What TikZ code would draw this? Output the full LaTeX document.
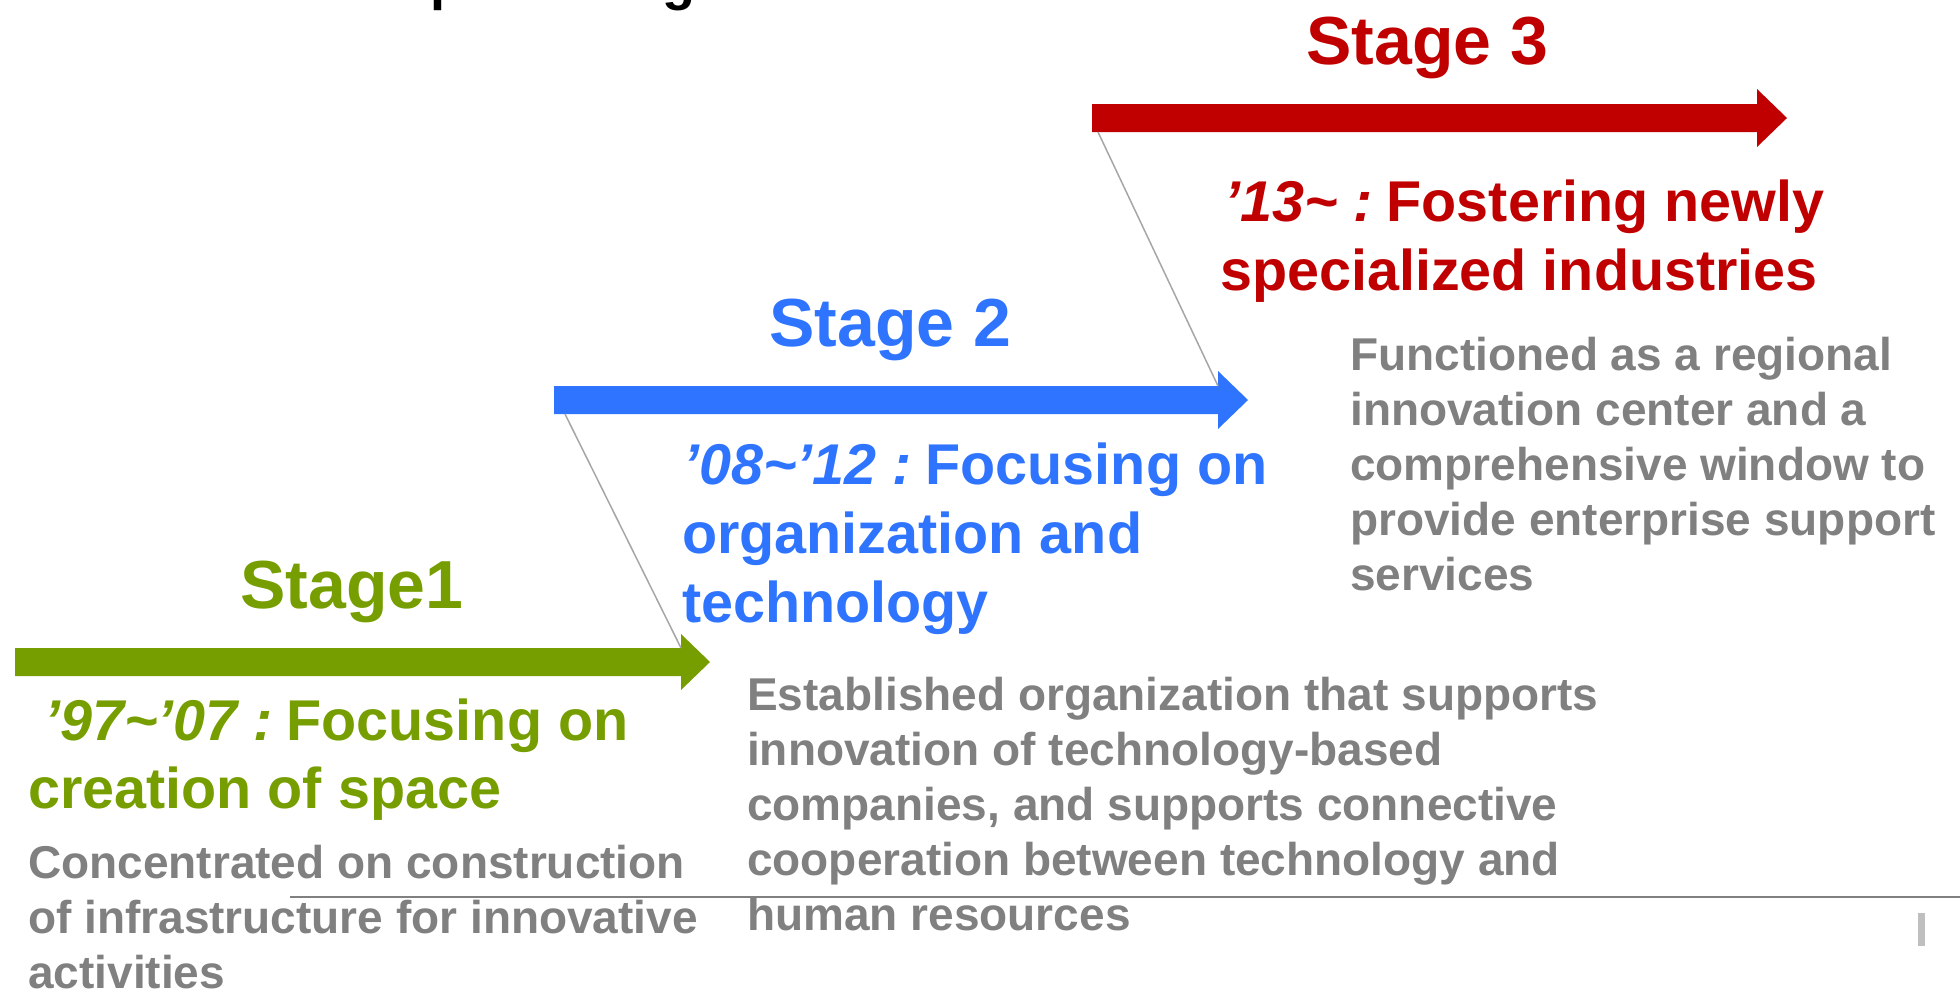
\documentclass[tikz,border=0pt]{standalone}
\usepackage{fontspec}
\setmainfont{Liberation Sans}
\definecolor{sgreen}{HTML}{769E00}
\definecolor{sblue}{HTML}{2E74FF}
\definecolor{sred}{HTML}{C00000}
\definecolor{sgray}{HTML}{808080}
\definecolor{lgray}{HTML}{A6A6A6}
\definecolor{bargray}{HTML}{BFBFBF}
\begin{document}
\begin{tikzpicture}[x=1pt,y=-1pt,
  stagetitle/.style={font=\fontsize{68}{80}\selectfont\bfseries, inner sep=0pt, anchor=base west},
  headline/.style={font=\fontsize{57.5}{69}\selectfont\bfseries, inner sep=0pt, anchor=base west},
  bodyline/.style={font=\fontsize{46}{55}\selectfont\bfseries, text=sgray, inner sep=0pt, anchor=base west},
  titlefrag/.style={font=\fontsize{54}{60}\selectfont\bfseries, inner sep=0pt, anchor=base west},
  link/.style={draw=lgray, line width=1.5pt}]
\useasboundingbox (0,0) rectangle (1960,991);
\begin{scope}
\clip (0,0) rectangle (1960,991);
% cut-off title fragments
\node[titlefrag] (tp) at (430,-1) {p};
\node[titlefrag] (tg) at (662,-1) {g};
% arrows
\fill[sgreen] (15,648) -- (681,648) -- (681,634) -- (710,662) -- (681,690) -- (681,676) -- (15,676) -- cycle;
\fill[sblue] (554,386) -- (1218,386) -- (1218,371) -- (1248,400) -- (1218,429) -- (1218,414) -- (554,414) -- cycle;
\fill[sred] (1092,104) -- (1757,104) -- (1757,89) -- (1787,118) -- (1757,147) -- (1757,132) -- (1092,132) -- cycle;
\coordinate (ghead) at (681,648);
\coordinate (bstart) at (565,414);
\coordinate (bhead) at (1218,386);
\coordinate (rstart) at (1098,132);
\draw[link] (bstart) -- (ghead);
\draw[link] (rstart) -- (bhead);
% stage titles
\node[stagetitle, text=sgreen] (s1) at (240,608) {Stage1};
\node[stagetitle, text=sblue] (s2) at (769,346) {Stage 2};
\node[stagetitle, text=sred] (s3) at (1306,64) {Stage 3};
% headlines
\node[headline, text=sgreen] (h1a) at (44,740) {{\itshape ’97\textasciitilde’07 :}\hspace{0.24em}Focusing on};
\node[headline, text=sgreen] (h1b) at (28,808) {creation of space};
\node[headline, text=sblue] (h2a) at (683,484) {{\itshape ’08\textasciitilde’12 :}\hspace{0.24em}Focusing on};
\node[headline, text=sblue] (h2b) at (682,553) {organization and};
\node[headline, text=sblue] (h2c) at (682,622) {technology};
\node[headline, text=sred] (h3a) at (1224,221) {{\itshape ’13\textasciitilde\ :}\hspace{0.24em}Fostering newly};
\node[headline, text=sred] (h3b) at (1220,290) {specialized industries};
% body texts
\node[bodyline] (b1a) at (28,878) {Concentrated on construction};
\node[bodyline] (b1b) at (28,933) {of infrastructure for innovative};
\node[bodyline] (b1c) at (28,988) {activities};
\node[bodyline] (b2a) at (747,710) {Established organization that supports};
\node[bodyline] (b2b) at (747,765) {innovation of technology-based};
\node[bodyline] (b2c) at (747,820) {companies, and supports connective};
\node[bodyline] (b2d) at (747,875) {cooperation between technology and};
\node[bodyline] (b2e) at (747,930) {human resources};
\node[bodyline] (b3a) at (1350,370) {Functioned as a regional};
\node[bodyline] (b3b) at (1350,425) {innovation center and a};
\node[bodyline] (b3c) at (1350,480) {comprehensive window to};
\node[bodyline] (b3d) at (1350,535) {provide enterprise support};
\node[bodyline] (b3e) at (1350,590) {services};
% footer line and mark
\coordinate (fl) at (290,897);
\coordinate (fr) at (1960,897);
\draw[draw=sgray, line width=2pt] (fl) -- (fr);
\fill[bargray] (1918,913) rectangle (1925,946);
\end{scope}
\end{tikzpicture}
\end{document}
